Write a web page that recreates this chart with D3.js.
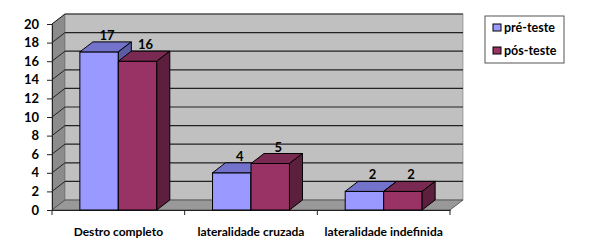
<!DOCTYPE html>
<html>
<head>
<meta charset="utf-8">
<script src="https://cdn.jsdelivr.net/npm/d3@7"></script>
<style>
  body { margin: 0; background: #fff; }
  text { font-family: Lato, "Open Sans", sans-serif; font-weight: 700; fill: #000; }
</style>
</head>
<body>
<svg id="chart"></svg>
<script>
var categories = ["Destro completo", "lateralidade cruzada", "lateralidade indefinida"];
var series = ["pré-teste", "pós-teste"];
var preTeste = [17, 4, 2];
var posTeste = [16, 5, 2];
var yTicks = [0, 2, 4, 6, 8, 10, 12, 14, 16, 18, 20];

var width = 590, height = 250;
var dx = 13, dy = -10;   // depth of the 3d look

var colors = {
  "pré-teste": { front: "#9999ff", top: "#7373cc", side: "#5c5ca3" },
  "pós-teste": { front: "#993366", top: "#7a2952", side: "#5c1f3d" }
};

var svg = d3.select("#chart")
    .attr("width", width)
    .attr("height", height);

var x0 = d3.scaleBand()
    .domain(categories)
    .range([52, 450]);

var x1 = d3.scaleBand()
    .domain(series)
    .range([x0.bandwidth() * 0.21, x0.bandwidth() * 0.79]);

var y = d3.scaleLinear()
    .domain([0, 20])
    .range([210, 24]);

var left = x0.range()[0], right = x0.range()[1];

// side wall (left)
svg.append("path")
    .attr("d", "M" + left + "," + y(0) + "L" + left + "," + y(20) + "L" + (left + dx) + "," + (y(20) + dy) +
      "L" + (left + dx) + "," + (y(0) + dy) + "Z")
    .attr("fill", "#8c8c8c")
    .attr("stroke", "#555").attr("stroke-width", 0.6);

// back wall
svg.append("rect")
    .attr("x", left + dx).attr("y", y(20) + dy)
    .attr("width", right - left).attr("height", y(0) - y(20))
    .attr("fill", "#c0c0c0")
    .attr("stroke", "#777").attr("stroke-width", 0.6);

// floor
svg.append("path")
    .attr("d", "M" + left + "," + y(0) + "L" + (left + dx) + "," + (y(0) + dy) + "L" + (right + dx) + "," + (y(0) + dy) +
      "L" + right + "," + y(0) + "Z")
    .attr("fill", "#999999")
    .attr("stroke", "#444").attr("stroke-width", 0.8);

// grid lines on back wall and side wall
var grid = svg.append("g");
yTicks.filter(d => d > 0).forEach(d => {
  grid.append("line")
      .attr("x1", left + dx).attr("x2", right + dx)
      .attr("y1", y(d) + dy).attr("y2", y(d) + dy)
      .attr("stroke", "#222").attr("stroke-width", 1.2);
  grid.append("line")
      .attr("x1", left).attr("x2", left + dx)
      .attr("y1", y(d)).attr("y2", y(d) + dy)
      .attr("stroke", "#222").attr("stroke-width", 1);
});

// y axis
var yAxis = svg.append("g")
    .attr("transform", "translate(" + left + ",0)")
    .call(d3.axisLeft(y).tickValues(yTicks).tickSize(5).tickPadding(8));
yAxis.select(".domain").attr("stroke", "#222");
yAxis.selectAll(".tick line").attr("stroke", "#222");
yAxis.selectAll("text").attr("font-size", 13).style("font-family", "Lato, sans-serif").style("font-weight", 700);

// x axis
var xAxis = svg.append("g")
    .attr("transform", "translate(0," + y(0) + ")")
    .call(d3.axisBottom(x0).tickSize(0).tickPadding(17));
xAxis.select(".domain").attr("stroke", "#222");
xAxis.selectAll("text").attr("font-size", 12).style("font-family", "Lato, sans-serif").style("font-weight", 700);
var bounds = [left].concat(categories.map(c => x0(c) + x0.bandwidth()));
svg.append("g").selectAll("line")
    .data(bounds)
  .enter().append("line")
    .attr("x1", d => d).attr("x2", d => d)
    .attr("y1", y(0)).attr("y2", y(0) + 5)
    .attr("stroke", "#222");

// bars
var rows = [];
categories.forEach((c, i) => {
  rows.push({ cat: c, s: "pré-teste", v: preTeste[i] });
  rows.push({ cat: c, s: "pós-teste", v: posTeste[i] });
});

var bars = svg.append("g").selectAll("g")
    .data(rows)
  .enter().append("g");

bars.each(function(d) {
  var g = d3.select(this);
  var xa = x0(d.cat) + x1(d.s), w = x1.bandwidth();
  var yt = y(d.v), yb = y(0);
  g.append("rect")
      .attr("x", xa).attr("y", yt).attr("width", w).attr("height", yb - yt)
      .attr("fill", colors[d.s].front).attr("stroke", "#000").attr("stroke-width", 1);
  g.append("path")
      .attr("d", "M" + xa + "," + yt + "L" + (xa + dx) + "," + (yt + dy) + "L" + (xa + w + dx) + "," + (yt + dy) +
        "L" + (xa + w) + "," + yt + "Z")
      .attr("fill", colors[d.s].top).attr("stroke", "#000").attr("stroke-width", 1);
  g.append("path")
      .attr("d", "M" + (xa + w) + "," + yt + "L" + (xa + w + dx) + "," + (yt + dy) + "L" + (xa + w + dx) + "," + (yb + dy) +
        "L" + (xa + w) + "," + yb + "Z")
      .attr("fill", colors[d.s].side).attr("stroke", "#000").attr("stroke-width", 1);
  g.append("text")
      .attr("x", xa + w / 2 + 8).attr("y", yt - 12)
      .attr("text-anchor", "middle")
      .attr("font-size", 13)
      .text(d.v);
});

// legend
var legend = svg.append("g").attr("transform", "translate(485,16)");
legend.append("rect")
    .attr("width", 79).attr("height", 47)
    .attr("fill", "#fff").attr("stroke", "#555");
series.forEach((s, i) => {
  legend.append("rect")
      .attr("x", 8).attr("y", 8 + i * 23).attr("width", 8).attr("height", 7)
      .attr("fill", colors[s].front).attr("stroke", "#000");
  legend.append("text")
      .attr("x", 19).attr("y", 16 + i * 23)
      .attr("font-size", 12.5)
      .text(s);
});
</script>
</body>
</html>
